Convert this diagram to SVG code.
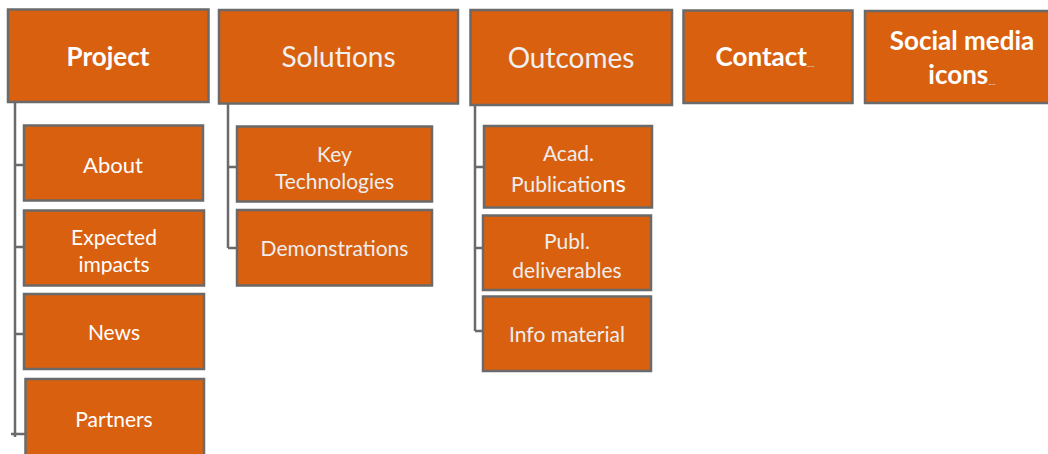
<svg xmlns="http://www.w3.org/2000/svg" width="1048" height="454" viewBox="0 0 1048 454">
<style>
.box{fill:#D9600F;stroke:#6a6a6a;stroke-width:2.5}
.t{font-family:Lato,"Open Sans",sans-serif;fill:#ffffff;text-anchor:middle}
.b{font-weight:bold;font-size:26px}
.h{font-size:28px;fill:#f0f0f0}
.c{font-size:21px}
.g{fill:#eeeeee}
.u{font-size:8px;fill:#cfcfcf}
.ln{stroke:#6a6a6a;stroke-width:2.5;fill:none}
</style>
<defs>
<clipPath id="clipExp"><rect x="20" y="205" width="190" height="69.5"/></clipPath>
</defs>
<rect width="1048" height="454" fill="#ffffff"/>
<g id="connectors">
<path class="ln" d="M15,102 V437 M15,165 H24 M15,247 H24 M15,334 H24 M11,434 H25"/>
<path class="ln" d="M228,103 V248 M228,167 H237 M228,248 H237"/>
<path class="ln" d="M475,105 V331 M475,167 H484 M475,248 H484 M475,331 H484"/>
</g>
<g id="project"><rect class="box" x="8" y="9.5" width="200.5" height="92.5"/><text class="t b" x="108" y="66">Project</text></g>
<g id="solutions"><rect class="box" x="219" y="10" width="239" height="93.5"/><text class="t h" x="338.5" y="67">Solutions</text></g>
<g id="outcomes"><rect class="box" x="470.5" y="10" width="201.5" height="95"/><text class="t h" x="571" y="68">Outcomes</text></g>
<g id="contact"><rect class="box" x="683.5" y="10.5" width="169" height="92.5"/><text class="t b" x="765" y="66">Contact<tspan class="u">__</tspan></text></g>
<g id="social"><rect class="box" x="865" y="11" width="190" height="92"/><text class="t b" x="962" y="50">Social media</text><text class="t b" x="962" y="84">icons<tspan class="u">__</tspan></text></g>
<g id="about"><rect class="box" x="24" y="125.5" width="179" height="75"/><text class="t" style="font-size:22px" x="113" y="172.5">About</text></g>
<g id="expected"><rect class="box" x="24" y="210.5" width="180" height="75"/><g clip-path="url(#clipExp)"><text class="t c" x="114" y="245">Expected</text><text class="t c" x="114" y="272">impacts</text></g></g>
<g id="news"><rect class="box" x="24" y="294" width="180" height="75"/><text class="t c" x="114" y="340">News</text></g>
<g id="partners"><rect class="box" x="25.5" y="379" width="178.5" height="80"/><text class="t c" x="114" y="427">Partners</text></g>
<g id="keytech"><rect class="box" x="237" y="126.5" width="195" height="75"/><text class="t c g" x="334.5" y="161.5">Key</text><text class="t c g" x="334.5" y="188.5">Technologies</text></g>
<g id="demos"><rect class="box" x="237" y="210" width="195" height="75.5"/><text class="t c g" x="334.5" y="256">Demonstrations</text></g>
<g id="acad"><rect class="box" x="484" y="126" width="168" height="81.5"/><text class="t c g" x="568.5" y="160.5">Acad.</text><text class="t c g" x="568.5" y="191.5">Publicatio<tspan style="font-size:24px;fill:#ffffff">ns</tspan></text></g>
<g id="publ"><rect class="box" x="483" y="215.5" width="168" height="74.5"/><text class="t c g" x="567" y="249">Publ.</text><text class="t c g" x="567" y="278">deliverables</text></g>
<g id="info"><rect class="box" x="483" y="296.5" width="168" height="74.5"/><text class="t c g" x="567" y="341.5">Info material</text></g>
</svg>
